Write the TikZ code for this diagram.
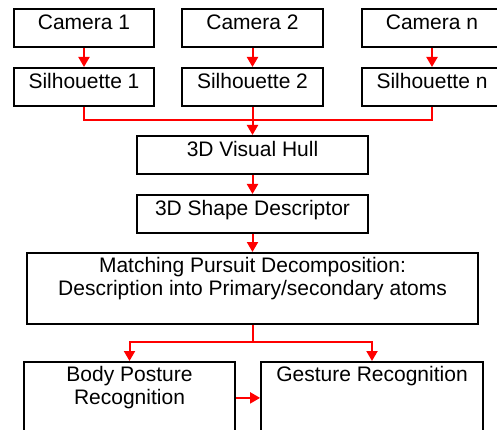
\documentclass[tikz,border=0pt]{standalone}
\usepackage{fontspec}
\setmainfont{Liberation Sans}
\usetikzlibrary{arrows.meta}
\tikzset{
  stage/.style={draw, line width=1.8pt, inner sep=0pt, anchor=north, align=center,
    font=\fontsize{21}{23}\selectfont, text height=21pt, text depth=17pt},
  flow/.style={draw, red, line width=2pt, -{Triangle[width=11pt,length=10pt]}},
  link/.style={draw, red, line width=2pt}
}
\begin{document}
\begin{tikzpicture}[x=1pt,y=-1pt]
\clip (0,0) rectangle (497,430);
% cameras and silhouettes
\node[stage, minimum width=140pt] (c1) at (84,8) {Camera 1};
\node[stage, minimum width=141pt] (c2) at (252.5,8) {Camera 2};
\node[stage, minimum width=140pt] (cn) at (432,8) {Camera n};
\node[stage, minimum width=140pt] (s1) at (84,67) {Silhouette 1};
\node[stage, minimum width=141pt] (s2) at (252.5,67) {Silhouette 2};
\node[stage, minimum width=140pt] (sn) at (432,67) {Silhouette n};
\path[flow] (c1) -- (s1);
\path[flow] (c2) -- (s2);
\path[flow] (cn) -- (sn);
% hull and descriptor
\node[stage, minimum width=231pt] (hull) at (252.5,135) {3D Visual Hull};
\node[stage, minimum width=231pt] (shape) at (252.5,194) {3D Shape Descriptor};
\coordinate (merge) at (252.5,120);
\path[link] (s1.south) |- (merge) -| (sn.south);
\path[flow] (s2) -- (hull);
\path[flow] (hull) -- (shape);
% decomposition
\node[stage, minimum width=451pt, text height=43pt, text depth=28pt] (mp) at (252.5,252)
  {Matching Pursuit Decomposition:\\Description into Primary/secondary atoms};
\path[flow] (shape) -- (mp);
% recognition
\node[stage, minimum width=211pt, text height=43pt, text depth=29pt] (body) at (129.5,361)
  {Body Posture\\Recognition};
\node[stage, minimum width=222pt, text height=20pt, text depth=52pt] (gest) at (372,361)
  {Gesture Recognition};
\coordinate (split) at (252.5,342);
\path[link] (mp.south) -- (split);
\path[flow] (split) -| (body.north);
\path[flow] (split) -| (gest.north);
\path[flow] (body) -- (gest);
\end{tikzpicture}
\end{document}
